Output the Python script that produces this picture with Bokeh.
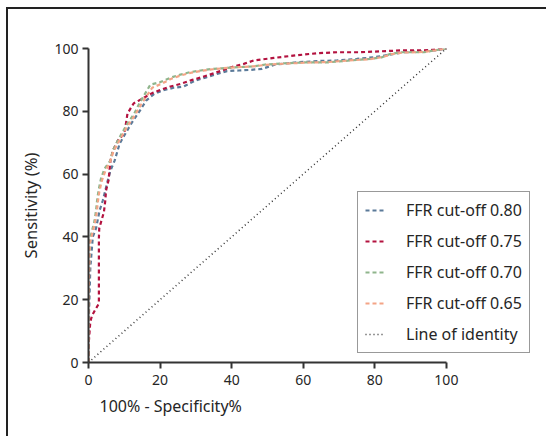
from bokeh.plotting import figure
from bokeh.models import Range1d, Legend, LegendItem, Title, FixedTicker
from bokeh.embed import file_html
from bokeh.resources import INLINE

# ---- data (100% - specificity, sensitivity) ----
x_080 = [0, 0, 0.5, 1.2, 2.1, 3.1, 4.0, 4.7, 5.4, 6.1, 7.3, 8.7, 10.0, 11.9, 14.7, 16.1, 18.2, 20.6, 23.8, 26.6,
         29.9, 33.1, 35.9, 38.7, 42.0, 45.3, 48.5, 52.2, 58.3, 63.9, 69.5, 75.0, 79.7, 83.9, 88.1, 92.7, 97.4, 100]
y_080 = [0, 10, 30, 40, 42.7, 48.4, 51.6, 54.8, 58.0, 61.0, 64.3, 69.7, 72.3, 76.0, 80.8, 83.4, 85.4, 86.6, 87.5, 87.9,
         89.8, 90.9, 91.9, 92.8, 93.0, 93.2, 93.5, 94.9, 95.6, 96.0, 96.2, 96.7, 97.2, 98.0, 98.8, 99.1, 99.4, 100]

x_075 = [0, 0, 0.5, 1.0, 2.9, 2.9, 2.9, 3.0, 4.3, 4.7, 4.9, 5.6, 6.1, 6.8, 8.2, 10.0, 10.5, 10.9, 12.6, 15.0, 17.8,
         20.1, 22.9, 25.7, 29.0, 31.7, 35.0, 37.8, 40.6, 43.4, 46.2, 51.8, 57.8, 63.9, 69.5, 75.5, 81.6, 87.6, 93.7, 100]
y_075 = [0, 5, 13, 15, 18.8, 30, 39.5, 42.7, 47.9, 51.6, 54.8, 58.0, 64.0, 67.5, 70.7, 73.0, 76.4, 79.3, 82.5, 84.0, 85.8,
         86.8, 87.9, 88.7, 90.0, 90.9, 92.1, 93.2, 94.3, 95.1, 96.2, 97.0, 97.8, 98.5, 98.8, 98.8, 99.1, 99.4, 99.4, 100]

x_070 = [0, 0, 0.3, 1.7, 2.1, 2.4, 2.8, 3.5, 4.5, 6.1, 6.8, 8.2, 10.8, 12.8, 14.2, 17.3, 20.1, 22.9, 25.7, 28.5,
         31.3, 34.6, 37.3, 40.6, 46.2, 49.4, 55.0, 61.0, 67.0, 73.2, 78.8, 82.0, 84.4, 87.6, 93.7, 96.5, 100]
y_070 = [0, 20, 38.9, 45.2, 48.4, 51.6, 54.8, 58.6, 61.8, 64.3, 67.5, 70.7, 76.0, 79.3, 82.5, 88.5, 89.3, 90.7, 91.7, 92.5,
         93.0, 93.5, 93.7, 94.0, 94.3, 94.9, 95.3, 95.6, 95.6, 96.2, 96.7, 97.2, 98.3, 98.8, 98.8, 99.4, 100]

x_065 = [0, 0, 0.4, 1.8, 2.3, 2.6, 3.0, 3.7, 4.7, 6.0, 6.9, 8.4, 11.0, 13.0, 14.6, 17.8, 20.5, 23.2, 26.0, 28.8,
         31.5, 34.8, 37.5, 40.8, 46.0, 49.6, 55.2, 61.0, 67.2, 73.0, 78.6, 82.2, 84.8, 87.8, 93.5, 96.8, 100]
y_065 = [0, 20, 38.0, 44.5, 47.8, 51.0, 54.2, 57.8, 61.0, 63.8, 67.0, 70.2, 75.5, 78.8, 82.0, 87.5, 88.8, 90.4, 91.5, 92.3,
         92.9, 93.4, 93.7, 94.0, 94.3, 94.8, 95.2, 95.5, 95.7, 96.2, 96.6, 97.3, 98.2, 98.7, 98.9, 99.4, 100]

x_identity = [0, 100]
y_identity = [0, 100]

series_names = ["FFR cut-off 0.80", "FFR cut-off 0.75", "FFR cut-off 0.70", "FFR cut-off 0.65"]
identity_name = "Line of identity"
x_ticks = [0, 20, 40, 60, 80, 100]
y_ticks = [0, 20, 40, 60, 80, 100]
x_title = "100% - Specificity%"
y_title = "Sensitivity (%)"

FONT = "Noto Sans"
TXT = "#262626"

# canvas is offset by (8, 9) in the page (margin + 2px border)
p = figure(width=540, height=429, output_backend="svg", toolbar_location=None,
           x_range=Range1d(0, 126.3), y_range=Range1d(0, 100),
           min_border_left=80, min_border_right=8, min_border_top=39, min_border_bottom=76)
p.styles = {"border-left": "2px solid #222", "border-top": "2px solid #222",
            "margin-left": "6px", "margin-top": "7px"}
p.grid.visible = False
p.outline_line_color = None
p.background_fill_color = "white"
p.border_fill_color = "white"

for ax in (p.xaxis[0], p.yaxis[0]):
    ax.axis_line_color = "#333333"
    ax.axis_line_width = 2
    ax.major_tick_line_color = "#333333"
    ax.major_tick_line_width = 2
    ax.major_tick_out = 6
    ax.major_tick_in = 0
    ax.minor_tick_line_color = None
    ax.major_label_text_font = FONT
    ax.major_label_text_font_size = "14px"
    ax.major_label_text_color = TXT

p.xaxis[0].ticker = FixedTicker(ticks=x_ticks)
p.yaxis[0].ticker = FixedTicker(ticks=y_ticks)
p.xaxis[0].bounds = (0, 100)
p.xaxis[0].major_label_standoff = 6
p.yaxis[0].major_label_standoff = 4

p.yaxis[0].axis_label = y_title
p.yaxis[0].axis_label_text_font = FONT
p.yaxis[0].axis_label_text_font_size = "16.5px"
p.yaxis[0].axis_label_text_font_style = "normal"
p.yaxis[0].axis_label_text_color = TXT
p.yaxis[0].axis_label_standoff = 9

xt = Title(text=x_title, align="left", offset=11, standoff=11,
           text_font=FONT, text_font_size="16px", text_font_style="normal", text_color=TXT)
p.add_layout(xt, "below")

colors = ["#5b7a99", "#b3123f", "#8fb58c", "#f4a486"]
data = [(x_080, y_080), (x_075, y_075), (x_070, y_070), (x_065, y_065)]
items = []
for (xs, ys), c, name in zip(data, colors, series_names):
    r = p.line(xs, ys, line_color=c, line_width=2.2, line_dash="4 3")
    items.append(LegendItem(label=name, renderers=[r]))

r_id = p.line(x_identity, y_identity, line_color="#333333", line_width=1.5, line_dash="1 3")
items.append(LegendItem(label=identity_name, renderers=[r_id]))

legend = Legend(items=items, location=(269, 9), orientation="vertical",
                label_text_font=FONT, label_text_font_size="16px", label_text_color=TXT,
                glyph_width=20, glyph_height=20, label_height=20, spacing=9, padding=7,
                label_standoff=21, border_line_color="#333333", border_line_width=1.5,
                background_fill_color="white", background_fill_alpha=1.0, margin=0)
p.add_layout(legend, "center")

open("out.html", "w").write(file_html(p, INLINE))
